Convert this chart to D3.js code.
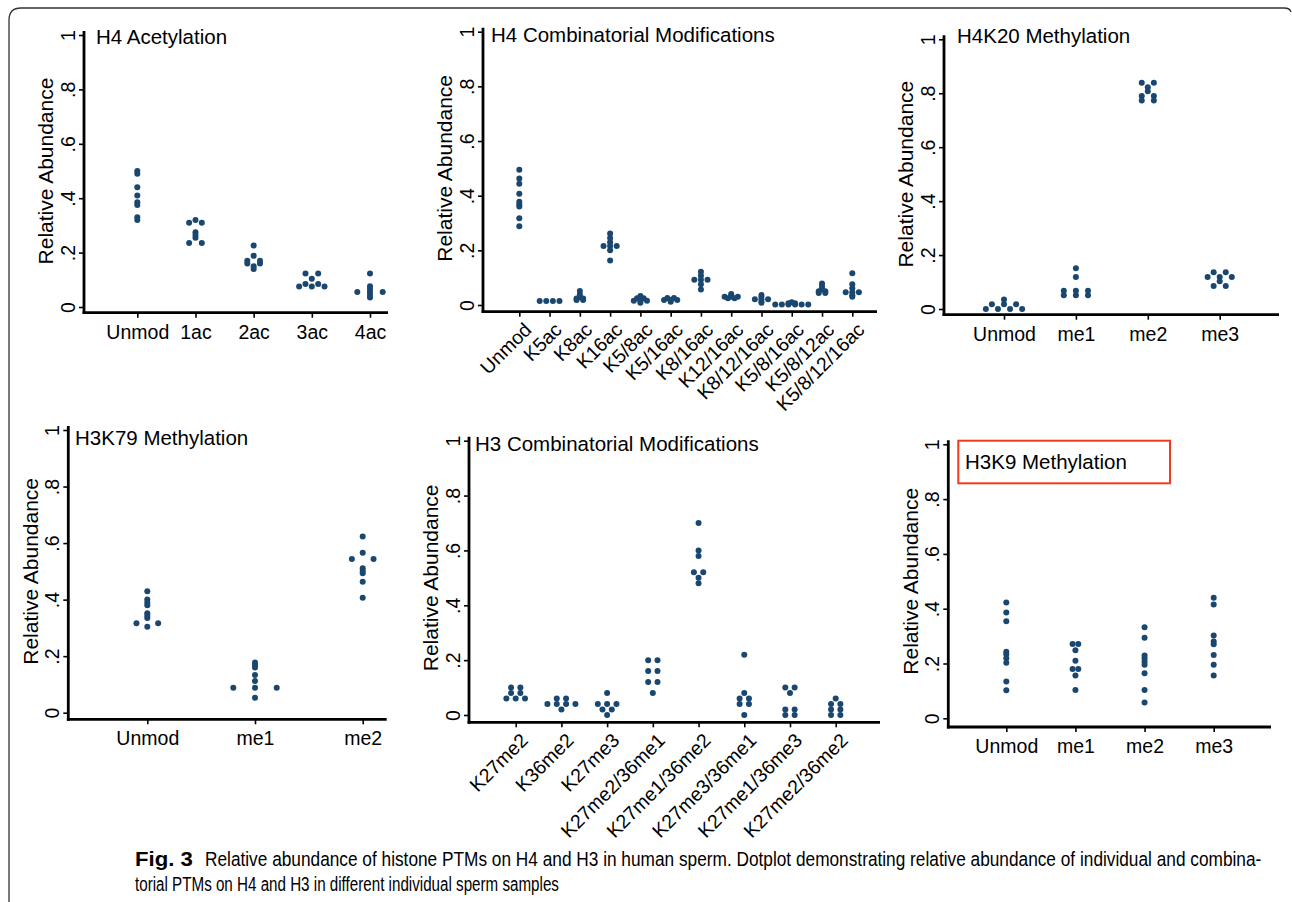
<!DOCTYPE html>
<html>
<head>
<meta charset="utf-8">
<script src="https://cdn.jsdelivr.net/npm/d3@7"></script>
<style>
  body { margin: 0; background: #fff; }
  svg { display: block; }
  text { font-family: "Liberation Sans", Arial, sans-serif; fill: #000; }
</style>
</head>
<body>
<div id="chart"></div>
<script>
const W = 1292;
const H = 902;

// ---- data: relative abundance per sample ----
const h4AcCats = ["Unmod", "1ac", "2ac", "3ac", "4ac"];
const h4AcVals = [
  [0.50, 0.49, 0.44, 0.41, 0.385, 0.375, 0.33, 0.32],
  [0.32, 0.31, 0.31, 0.275, 0.265, 0.255, 0.235, 0.235],
  [0.226, 0.188, 0.17, 0.17, 0.16, 0.16, 0.15, 0.14],
  [0.123, 0.123, 0.104, 0.085, 0.085, 0.075, 0.075, 0.075],
  [0.123, 0.076, 0.066, 0.055, 0.055, 0.055, 0.045, 0.035]
];

const h4CombCats = ["Unmod", "K5ac", "K8ac", "K16ac", "K5/8ac", "K5/16ac", "K8/16ac",
  "K12/16ac", "K8/12/16ac", "K5/8/16ac", "K5/8/12ac", "K5/8/12/16ac"];
const h4CombVals = [
  [0.495, 0.463, 0.444, 0.407, 0.378, 0.368, 0.36, 0.317, 0.288],
  [0.015, 0.015, 0.015, 0.015],
  [0.051, 0.038, 0.028, 0.024, 0.024, 0.018, 0.018],
  [0.262, 0.245, 0.23, 0.216, 0.216, 0.216, 0.2, 0.163],
  [0.033, 0.025, 0.025, 0.016, 0.016, 0.016, 0.008],
  [0.026, 0.026, 0.018, 0.018, 0.018, 0.012],
  [0.122, 0.107, 0.092, 0.092, 0.092, 0.076, 0.057],
  [0.04, 0.034, 0.03, 0.03, 0.03, 0.025, 0.025],
  [0.037, 0.03, 0.021, 0.021, 0.021, 0.012, 0.008],
  [0.01, 0.006, 0.006, 0.002, 0.002, 0.002, 0.002, 0.002, 0.002],
  [0.079, 0.068, 0.058, 0.05, 0.05, 0.044, 0.044],
  [0.116, 0.076, 0.061, 0.047, 0.047, 0.047, 0.036, 0.03]
];

const h4k20Cats = ["Unmod", "me1", "me2", "me3"];
const h4k20Vals = [
  [0.035, 0.018, 0.018, 0.018, 0.0, 0.0, 0.0, 0.0],
  [0.151, 0.119, 0.068, 0.068, 0.068, 0.051, 0.051, 0.051],
  [0.839, 0.839, 0.822, 0.807, 0.79, 0.79, 0.773, 0.773],
  [0.136, 0.136, 0.119, 0.119, 0.119, 0.103, 0.085, 0.085]
];

const h3k79Cats = ["Unmod", "me1", "me2"];
const h3k79Vals = [
  [0.43, 0.40, 0.39, 0.38, 0.352, 0.343, 0.335, 0.316, 0.316, 0.304],
  [0.178, 0.169, 0.16, 0.133, 0.112, 0.088, 0.088, 0.088, 0.053],
  [0.623, 0.566, 0.544, 0.544, 0.511, 0.501, 0.493, 0.463, 0.407]
];

const h3CombCats = ["K27me2", "K36me2", "K27me3", "K27me2/36me1", "K27me1/36me2",
  "K27me3/36me1", "K27me1/36me3", "K27me2/36me2"];
const h3CombVals = [
  [0.10, 0.10, 0.08, 0.08, 0.06, 0.06, 0.06],
  [0.06, 0.06, 0.04, 0.04, 0.04, 0.04, 0.02],
  [0.08, 0.04, 0.04, 0.04, 0.02, 0.02, 0.0],
  [0.20, 0.20, 0.16, 0.16, 0.12, 0.12, 0.08],
  [0.70, 0.60, 0.58, 0.52, 0.52, 0.50, 0.48],
  [0.22, 0.08, 0.06, 0.06, 0.04, 0.04, 0.0],
  [0.10, 0.10, 0.08, 0.02, 0.02, 0.0, 0.0],
  [0.06, 0.04, 0.04, 0.02, 0.02, 0.0, 0.0]
];

const h3k9Cats = ["Unmod", "me1", "me2", "me3"];
const h3k9Vals = [
  [0.423, 0.386, 0.354, 0.243, 0.234, 0.219, 0.203, 0.134, 0.102],
  [0.271, 0.271, 0.248, 0.21, 0.18, 0.18, 0.156, 0.103],
  [0.332, 0.294, 0.229, 0.219, 0.207, 0.195, 0.164, 0.103, 0.058],
  [0.44, 0.415, 0.302, 0.28, 0.27, 0.231, 0.195, 0.156]
];

const yTicks = [0, 0.2, 0.4, 0.6, 0.8, 1];
const yTitle = "Relative Abundance";
const captionBold = "Fig. 3";
const captionLine1 = "Relative abundance of histone PTMs on H4 and H3 in human sperm. Dotplot demonstrating relative abundance of individual and combina-";
const captionLine2 = "torial PTMs on H4 and H3 in different individual sperm samples";

// ---- layout of each panel ----
const panels = [
  {cats: h4AcCats, vals: h4AcVals, title: "H4 Acetylation",
   ax: 84, ay: 312.7, y0: 307, y1: 35, right: 388, x0: 137.3, x1: 370, step: 12.7,
   tx: 96, ty: 37, rot: false},
  {cats: h4CombCats, vals: h4CombVals, title: "H4 Combinatorial Modifications",
   ax: 483, ay: 311.7, y0: 305, y1: 31.7, right: 877, x0: 519.3, x1: 852.3, step: 6.6,
   tx: 491, ty: 35, rot: true},
  {cats: h4k20Cats, vals: h4k20Vals, title: "H4K20 Methylation",
   ax: 944, ay: 314.7, y0: 309, y1: 39.3, right: 1279, x0: 1004, x1: 1219.7, step: 12.1,
   tx: 957, ty: 36, rot: false},
  {cats: h3k79Cats, vals: h3k79Vals, title: "H3K79 Methylation",
   ax: 68.3, ay: 719.3, y0: 712.7, y1: 430, right: 386.7, x0: 147.3, x1: 362.7, step: 21.7,
   tx: 75, ty: 438, rot: false},
  {cats: h3CombCats, vals: h3CombVals, title: "H3 Combinatorial Modifications",
   ax: 469, ay: 722.3, y0: 715, y1: 440.7, right: 880, x0: 515.7, x1: 835.7, step: 9.33,
   tx: 475, ty: 444, rot: true},
  {cats: h3k9Cats, vals: h3k9Vals, title: "H3K9 Methylation",
   ax: 948.3, ay: 727, y0: 718.3, y1: 444.3, right: 1271, x0: 1006.3, x1: 1213.7, step: 5.7,
   tx: 965, ty: 462, rot: false, box: [958.3, 440.7, 1170, 483.3]}
];

const dotColor = "#1a476f";
const fmt = d => d === 0 ? "0" : d === 1 ? "1" : d3.format(".1f")(d).replace(/^0/, "");

const svg = d3.select("#chart")
  .append("svg")
  .attr("width", W)
  .attr("height", H);

// outer frame of the figure
svg.append("path")
  .attr("d", "M9,902 L9,20 Q9,8 21,8 L1284,8 Q1290,8 1291,12")
  .attr("fill", "none")
  .attr("stroke", "#333")
  .attr("stroke-width", 1.3);

panels.forEach(p => {
  const g = svg.append("g");

  const y = d3.scaleLinear().domain([0, 1]).range([p.y0, p.y1]);
  const x = d3.scalePoint().domain(p.cats).range([p.x0, p.x1]);

  // y axis
  const yAxis = d3.axisLeft(y).tickValues(yTicks).tickFormat(fmt).tickSize(5).tickSizeOuter(0);
  const gy = g.append("g")
    .attr("transform", `translate(${p.ax},0)`)
    .call(yAxis);
  gy.select(".domain").remove();
  gy.selectAll(".tick line").attr("stroke-width", 1.6);
  gy.selectAll(".tick text")
    .attr("transform", "rotate(-90)")
    .attr("x", 0)
    .attr("y", -16)
    .attr("dy", "0.35em")
    .attr("text-anchor", "middle")
    .style("font-size", "19.5px")
    .style("font-family", "'Liberation Sans', Arial, sans-serif");

  // x axis
  const xAxis = d3.axisBottom(x).tickSize(5).tickSizeOuter(0);
  const gx = g.append("g")
    .attr("transform", `translate(0,${p.ay})`)
    .call(xAxis);
  gx.select(".domain").remove();
  gx.selectAll(".tick line").attr("stroke-width", 1.6);
  const xt = gx.selectAll(".tick text")
    .style("font-size", "19.5px")
    .style("font-family", "'Liberation Sans', Arial, sans-serif");
  if (p.rot) {
    xt.attr("text-anchor", "end")
      .attr("transform", "rotate(-45)")
      .attr("x", -4.5)
      .attr("y", 16)
      .attr("dy", "0.35em");
  } else {
    xt.attr("y", 19).attr("dy", "0.35em");
  }

  // thick axis lines
  g.append("line")
    .attr("x1", p.ax).attr("x2", p.ax)
    .attr("y1", y(1) - 4).attr("y2", p.ay + 1.4)
    .attr("stroke", "#000").attr("stroke-width", 2.8);
  g.append("line")
    .attr("x1", p.ax - 1.4).attr("x2", p.right)
    .attr("y1", p.ay).attr("y2", p.ay)
    .attr("stroke", "#000").attr("stroke-width", 2.8);

  // axis title
  g.append("text")
    .attr("transform", `translate(${p.ax - 38},${(y(0) + y(1)) / 2}) rotate(-90)`)
    .attr("text-anchor", "middle")
    .attr("dy", "0.35em")
    .style("font-size", "21px")
    .text(yTitle);

  // panel title
  if (p.box) {
    g.append("rect")
      .attr("x", p.box[0]).attr("y", p.box[1])
      .attr("width", p.box[2] - p.box[0]).attr("height", p.box[3] - p.box[1])
      .attr("fill", "none")
      .attr("stroke", "#f23a1f")
      .attr("stroke-width", 2);
  }
  g.append("text")
    .attr("x", p.tx)
    .attr("y", p.ty)
    .attr("dy", "0.35em")
    .style("font-size", "20.5px")
    .text(p.title);

  // dots: equal values sit side by side, centred on the category
  const dots = [];
  p.cats.forEach((c, i) => {
    d3.groups(p.vals[i], v => v).forEach(([v, arr]) => {
      arr.forEach((_, k) => {
        dots.push({cat: c, value: v, off: (k - (arr.length - 1) / 2) * p.step});
      });
    });
  });

  g.append("g")
    .selectAll("circle")
    .data(dots)
    .enter()
    .append("circle")
    .attr("cx", d => x(d.cat) + d.off)
    .attr("cy", d => y(d.value))
    .attr("r", 3)
    .attr("fill", dotColor);
});

// caption: condensed look by squeezing each line to its width in the figure
const cap = svg.append("g")
  .style("font-family", "'Liberation Sans Narrow', 'Liberation Sans', sans-serif")
  .style("font-size", "19.5px")
  .style("fill", "#231f20");

function capLine(x, yy, width, txt, bold) {
  const t = cap.append("text")
    .attr("x", 0).attr("y", 0)
    .style("font-weight", bold ? "bold" : "normal")
    .text(txt);
  const natural = t.node().getComputedTextLength();
  t.attr("transform", `translate(${x},${yy}) scale(${width / natural},1)`);
}
capLine(135, 866, 58, captionBold, true);
capLine(205, 866, 1057, captionLine1, false);
capLine(135, 891, 424, captionLine2, false);
</script>
</body>
</html>
